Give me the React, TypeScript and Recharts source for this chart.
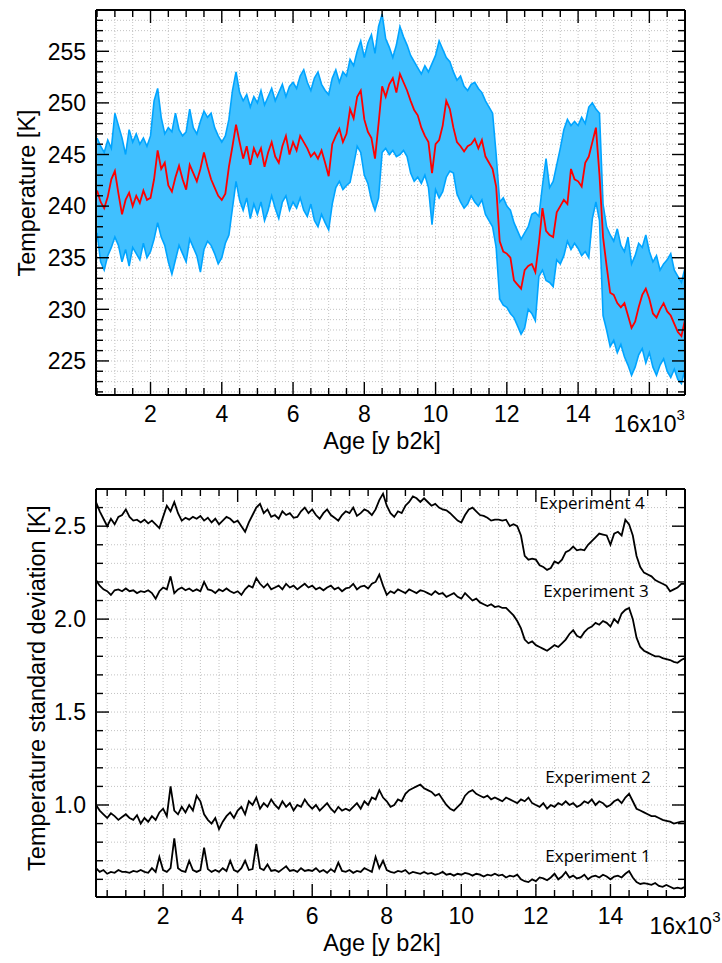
import React from "react";
import {
  ComposedChart,
  LineChart,
  Line,
  Area,
  XAxis,
  YAxis,
  CartesianGrid,
} from "recharts";

const FONT = "'Liberation Sans', Arial, Helvetica, sans-serif";
const LABEL_FONT = "'Open Sans', 'DejaVu Sans', sans-serif";

function range(start: number, stop: number, step: number): number[] {
  const out: number[] = [];
  for (let i = 0; start + i * step <= stop + 1e-9; i++) {
    out.push(Math.round((start + i * step) * 1000) / 1000);
  }
  return out;
}

// ---- top panel: temperature reconstruction, 500..17000 y b2k every 100 y
const topAges = range(500, 17000, 100);

const tempMean = [
  241.5, 240.4, 239.8, 240.9, 242.6,
  243.4, 241.2, 239.2, 240.6, 241.3, 240.0, 241.0, 240.3, 241.5, 240.6,
  240.8, 242.6, 245.4, 243.6, 244.2, 242.0, 241.4, 242.8, 243.9, 242.6,
  241.6, 244.0, 243.2, 242.4, 243.6, 245.2, 243.8, 242.6, 241.8, 241.0,
  240.6, 241.2, 243.8, 245.8, 247.9, 246.2, 244.6, 245.8, 244.0, 245.6,
  244.8, 245.6, 243.8, 245.2, 246.2, 244.8, 244.2, 245.8, 246.8, 245.0,
  246.2, 245.4, 246.8, 246.2, 245.6, 244.8, 245.2, 244.6, 245.4, 244.2,
  242.9, 246.0, 246.8, 247.5, 246.2, 247.0, 249.4, 248.5, 250.6, 251.2,
  248.4, 247.2, 246.6, 244.6, 248.0, 251.6, 250.6, 251.8, 252.4, 251.0,
  252.8, 252.0, 251.2, 250.2, 249.3, 248.8, 247.6, 246.8, 246.2, 243.2,
  246.0, 246.4, 247.8, 250.2, 249.4, 247.6, 246.2, 245.8, 245.3, 245.8,
  246.0, 246.5, 245.6, 246.4, 244.8, 244.2, 243.6, 241.9, 236.6, 235.6,
  235.4, 235.0, 232.8, 232.4, 232.0, 233.8, 234.2, 234.4, 233.6, 236.4,
  239.8, 237.6, 237.2, 237.0, 239.4, 240.0, 240.6, 240.2, 243.6, 242.6,
  242.4, 241.9, 244.2, 244.8, 246.2, 247.6, 243.0, 237.0, 234.2, 231.6,
  231.4, 230.6, 230.2, 230.6, 229.4, 228.2, 228.8, 230.2, 231.4, 232.0,
  231.0, 229.6, 229.2, 230.0, 230.6, 229.8, 229.4, 228.6, 227.8, 227.4,
  229.0,
];

const tempUpper = [
  246.6, 245.8, 245.2, 246.4, 245.6,
  249.0, 247.8, 246.6, 245.0, 247.4, 246.2, 247.0, 246.0, 246.6, 245.8,
  246.8, 250.2, 251.4, 248.6, 247.0, 247.6, 247.2, 249.0, 247.4, 246.8,
  247.2, 249.4, 247.6, 247.0, 248.2, 249.2, 248.6, 249.0, 247.6, 246.8,
  246.2, 246.8, 248.4, 251.2, 253.0, 251.0, 250.2, 250.8, 249.6, 250.6,
  250.0, 251.2, 249.8, 250.6, 251.4, 250.2, 251.0, 251.8, 250.6, 251.6,
  252.0, 251.4, 252.6, 253.2, 252.0, 251.2, 252.4, 253.0, 251.8, 251.2,
  250.8, 252.4, 253.2, 252.0, 253.0, 252.6, 254.2, 253.6, 255.0, 256.0,
  254.4, 255.8, 256.6, 254.8, 257.4, 258.6, 256.2, 255.4, 254.4, 255.6,
  257.4, 256.4, 255.6, 254.6, 254.0, 253.4, 252.8, 253.6, 253.0, 253.8,
  254.6, 256.0, 255.2, 254.4, 254.0, 253.0, 252.2, 252.6, 251.6, 251.2,
  251.8, 252.0, 251.4, 251.0, 250.2, 249.6, 249.0, 245.0, 240.4, 240.8,
  240.0, 239.6, 238.4, 237.6, 236.8, 237.4, 238.0, 239.2, 239.4, 239.0,
  242.0, 244.6, 241.8, 242.4, 244.0, 245.6, 247.4, 248.4, 247.8, 248.2,
  247.8, 248.6, 248.0, 249.6, 250.0, 249.4, 249.0, 240.2, 238.0, 237.2,
  236.6, 237.8, 236.2, 235.6, 237.0, 234.4, 235.2, 236.4, 236.0, 237.2,
  235.6, 234.6, 235.2, 233.8, 234.4, 234.8, 235.4, 233.8, 233.2, 232.6,
  234.0,
];

const tempLower = [
  237.4, 234.6, 233.8, 235.2, 236.0,
  237.0, 236.2, 234.6, 235.8, 234.2, 236.0, 235.4, 234.8, 236.4, 235.0,
  235.6, 236.8, 238.4, 237.0, 236.2, 234.6, 233.4, 234.8, 236.2, 235.4,
  234.6, 236.8, 236.0, 235.2, 233.6, 235.8, 236.6, 236.2, 235.4, 234.4,
  235.0, 236.4, 237.2, 239.8, 242.4, 240.6, 239.6, 240.8, 238.8, 240.2,
  239.2, 240.4, 238.6, 239.6, 241.0, 239.8, 238.8, 240.4, 241.0, 239.6,
  240.4, 239.8, 240.8, 239.6, 239.0, 240.2, 238.6, 238.0, 239.2, 238.4,
  237.7, 240.2, 241.8, 242.4, 241.6, 242.0, 242.3, 244.0, 245.8, 245.2,
  243.0, 242.2, 240.6, 239.6, 240.8, 245.2, 245.6, 245.0, 245.4, 244.8,
  245.0, 245.4, 244.8, 243.2, 242.4, 242.8, 242.2, 243.0, 241.8, 238.2,
  241.6, 240.8, 241.4, 242.8, 243.4, 243.2, 241.2, 240.4, 239.8, 240.2,
  241.0, 240.4, 240.0, 240.6, 239.2, 238.6, 238.0, 236.0, 231.0, 230.4,
  230.2, 229.6, 229.2, 228.4, 227.6, 228.2, 230.0, 229.6, 228.9, 233.2,
  233.8, 232.8, 232.6, 232.2, 234.8, 234.4, 235.2, 236.6, 235.8, 236.4,
  235.9, 235.2, 235.6, 235.0, 238.8, 240.4, 238.6, 229.4, 228.0, 226.4,
  227.0, 225.8, 226.6, 225.4, 224.6, 223.6, 224.4, 225.6, 226.2, 224.8,
  225.8, 224.4, 223.6, 224.6, 225.2, 224.0, 223.4, 224.2, 223.2, 222.8,
  224.2,
];

// ---- bottom panel: temperature standard deviation, 200..16000 y b2k every 100 y
const sdAges = range(200, 16000, 100);

const exp4 = [
  2.63, 2.58, 2.54, 2.5, 2.54, 2.51, 2.55, 2.56,
  2.59, 2.55, 2.53, 2.535, 2.52, 2.535, 2.515, 2.53, 2.51, 2.49,
  2.55, 2.61, 2.58, 2.63, 2.57, 2.53, 2.545, 2.535, 2.55, 2.54,
  2.555, 2.53, 2.545, 2.52, 2.54, 2.51, 2.53, 2.55, 2.54, 2.52,
  2.53, 2.5, 2.47, 2.52, 2.56, 2.6, 2.62, 2.57, 2.59, 2.55,
  2.56, 2.54, 2.58, 2.56, 2.57, 2.545, 2.55, 2.58, 2.6, 2.57,
  2.59, 2.56, 2.54, 2.57, 2.59, 2.56, 2.545, 2.53, 2.56, 2.58,
  2.57, 2.6, 2.555, 2.57, 2.59, 2.58, 2.56, 2.59, 2.64, 2.675,
  2.61, 2.57, 2.55, 2.58, 2.57, 2.61, 2.63, 2.66, 2.65, 2.63,
  2.65, 2.63, 2.61, 2.62, 2.6, 2.59, 2.585, 2.57, 2.55, 2.53,
  2.52, 2.56, 2.59, 2.6, 2.58, 2.56, 2.555, 2.545, 2.53, 2.535,
  2.535, 2.53, 2.535, 2.5, 2.51, 2.5, 2.45, 2.34, 2.32, 2.325,
  2.32, 2.29, 2.28, 2.265, 2.275, 2.31, 2.3, 2.32, 2.36, 2.37,
  2.39, 2.37, 2.375, 2.37, 2.4, 2.42, 2.44, 2.46, 2.455, 2.45,
  2.4, 2.46, 2.47, 2.45, 2.535, 2.51, 2.45, 2.34, 2.28, 2.25,
  2.24, 2.23, 2.21, 2.2, 2.19, 2.18, 2.15, 2.16, 2.17, 2.19,
  2.19,
];

const exp3 = [
  2.21, 2.18, 2.16, 2.15, 2.13, 2.155, 2.16, 2.15,
  2.165, 2.15, 2.155, 2.14, 2.15, 2.145, 2.155, 2.14, 2.11, 2.15,
  2.17, 2.16, 2.23, 2.14, 2.16, 2.17, 2.155, 2.165, 2.15, 2.16,
  2.15, 2.2, 2.16, 2.155, 2.14, 2.16, 2.15, 2.165, 2.15, 2.14,
  2.15, 2.13, 2.16, 2.18, 2.17, 2.22, 2.19, 2.17, 2.19, 2.16,
  2.17, 2.18, 2.16, 2.19, 2.17, 2.18, 2.16, 2.175, 2.19, 2.17,
  2.18, 2.16, 2.17, 2.155, 2.17, 2.18, 2.16, 2.17, 2.15, 2.165,
  2.17, 2.19, 2.16, 2.175, 2.18, 2.165, 2.19, 2.2, 2.24, 2.18,
  2.13, 2.15, 2.14, 2.16, 2.15, 2.14, 2.16, 2.15, 2.14, 2.155,
  2.15, 2.14, 2.13, 2.15, 2.135, 2.14, 2.12, 2.13, 2.14, 2.12,
  2.11, 2.14, 2.12, 2.1, 2.11, 2.09, 2.08, 2.07, 2.08, 2.065,
  2.07, 2.06, 2.06, 2.04, 2.02, 1.99, 1.95, 1.89, 1.87, 1.88,
  1.86, 1.85, 1.84, 1.83, 1.845, 1.86, 1.85, 1.87, 1.89, 1.92,
  1.94, 1.91, 1.9, 1.93, 1.95, 1.96, 1.98, 1.97, 1.99, 1.98,
  1.96, 2.0, 1.98, 2.03, 2.05, 2.06, 2.0, 1.9, 1.85, 1.83,
  1.82, 1.81, 1.8, 1.8, 1.79, 1.785, 1.78, 1.77, 1.765, 1.78,
  1.79,
];

const exp2 = [
  1.0, 0.97, 0.95, 0.93, 0.955, 0.94, 0.92, 0.935,
  0.95, 0.93, 0.92, 0.945, 0.9, 0.93, 0.91, 0.94, 0.92, 0.96,
  0.98, 0.94, 1.1, 0.97, 0.95, 0.99, 0.96, 1.0, 0.97, 1.05,
  1.02, 0.95, 0.92, 0.9, 0.93, 0.87, 0.91, 0.94, 0.96, 0.93,
  0.97, 0.99, 0.95, 1.02, 1.0, 1.04, 0.98, 1.01, 0.99, 1.03,
  1.0, 0.98, 1.02, 0.99, 1.01, 0.97, 1.0, 0.99, 1.03, 1.0,
  0.98, 1.0, 0.97, 0.99, 1.01, 0.98, 0.96, 0.99, 0.97, 0.98,
  0.97, 0.99, 1.01, 0.98, 1.02, 1.0, 1.04, 1.03, 1.08, 1.04,
  1.02, 0.99, 1.0, 1.03, 1.02, 1.06, 1.08, 1.09, 1.1, 1.11,
  1.09, 1.08, 1.07, 1.05, 1.06, 1.03, 1.0, 0.98, 0.97, 0.99,
  1.01, 1.05, 1.07, 1.08, 1.06, 1.05, 1.04, 1.05, 1.03, 1.04,
  1.03, 1.02, 1.04, 1.03, 1.02, 1.01, 1.03, 1.02, 1.04, 1.01,
  1.0, 0.99, 1.01, 0.98, 1.0, 0.99, 1.01, 1.0, 1.02, 1.0,
  1.01, 0.99, 1.0, 1.02, 1.01, 1.03, 1.0, 1.02, 1.01, 0.99,
  1.0, 1.02, 1.03, 1.01, 1.04, 1.06, 1.02, 0.98, 0.97, 0.96,
  0.95, 0.94, 0.94, 0.93, 0.92, 0.915, 0.91, 0.9, 0.905, 0.91,
  0.91,
];

const exp1 = [
  0.66, 0.64, 0.65, 0.63, 0.64, 0.635, 0.65, 0.64,
  0.64, 0.635, 0.645, 0.64, 0.65, 0.64, 0.635, 0.66, 0.64, 0.72,
  0.65, 0.64, 0.66, 0.82, 0.66, 0.645, 0.64, 0.7, 0.65, 0.64,
  0.65, 0.77, 0.655, 0.64, 0.65, 0.64, 0.66, 0.645, 0.7, 0.65,
  0.64, 0.66, 0.7, 0.65, 0.655, 0.79, 0.66, 0.65, 0.68, 0.645,
  0.65, 0.64, 0.655, 0.67, 0.645, 0.65, 0.64, 0.66, 0.645, 0.65,
  0.645, 0.66, 0.64, 0.65, 0.635, 0.655, 0.64, 0.69, 0.645, 0.64,
  0.65, 0.635, 0.645, 0.64, 0.66, 0.65, 0.64, 0.72, 0.66, 0.7,
  0.65, 0.64, 0.635, 0.645, 0.64, 0.65, 0.63, 0.64, 0.635, 0.63,
  0.64, 0.63, 0.635, 0.625, 0.63, 0.64, 0.625, 0.63, 0.62, 0.63,
  0.625, 0.635, 0.63, 0.62, 0.63, 0.625, 0.615, 0.625, 0.62, 0.63,
  0.62, 0.625, 0.61, 0.62, 0.615, 0.625, 0.6, 0.59, 0.585, 0.6,
  0.59, 0.61, 0.605, 0.595, 0.61, 0.63, 0.6, 0.615, 0.64, 0.61,
  0.62, 0.605, 0.61, 0.625, 0.6, 0.615, 0.62, 0.61, 0.625, 0.615,
  0.6, 0.615, 0.62, 0.61, 0.63, 0.645, 0.61, 0.585, 0.575, 0.58,
  0.575, 0.57, 0.58, 0.565, 0.56, 0.57, 0.56, 0.55, 0.555, 0.55,
  0.56,
];

// ---- ticks and labels
const topAgeTicks = range(500, 17000, 500);
const sdAgeTicks = range(500, 16000, 500);
const ageLabels = [2000, 4000, 6000, 8000, 10000, 12000, 14000, 16000];
const tempTicks = range(222, 259, 1);
const tempLabels = [225, 230, 235, 240, 245, 250, 255];
const sdTicks = range(0.6, 2.7, 0.1);
const sdLabels = [1.0, 1.5, 2.0, 2.5];

const experimentNames = ["Experiment 4", "Experiment 3", "Experiment 2", "Experiment 1"];

const topData = topAges.map((age, i) => ({
  age,
  band: [tempLower[i], tempUpper[i]],
  mean: tempMean[i],
}));

const sdData = sdAges.map((age, i) => ({
  age,
  e1: exp1[i],
  e2: exp2[i],
  e3: exp3[i],
  e4: exp4[i],
}));

const MAJOR = 13;
const MINOR = 7;
const TICK_FS = 23;
const TITLE_FS = 23.5;

const isIn = (list: number[], v: number) => list.some((l) => Math.abs(l - v) < 1e-6);

function xTick(labels: number[], side: "bottom" | "top") {
  return (props: any) => {
    const { x, y, payload } = props;
    const v = payload.value as number;
    const major = isIn(labels, v);
    const dir = side === "bottom" ? -1 : 1;
    const len = major ? MAJOR : MINOR;
    let label: React.ReactNode = null;
    if (side === "bottom" && major) {
      if (v === 16000) {
        label = (
          <text x={x} y={y + 37} textAnchor="middle" fontSize={TICK_FS} fontFamily={FONT} fill="#000">
            16x10
            <tspan dy={-12} fontSize={15}>3</tspan>
          </text>
        );
      } else {
        label = (
          <text x={x} y={y + 27} textAnchor="middle" fontSize={TICK_FS} fontFamily={FONT} fill="#000">
            {String(v / 1000)}
          </text>
        );
      }
    }
    return (
      <g>
        <line x1={x} y1={y} x2={x} y2={y + dir * len} stroke="#000" strokeWidth={1.4} />
        {label}
      </g>
    );
  };
}

function yTick(labels: number[], side: "left" | "right", fmt: (v: number) => string) {
  return (props: any) => {
    const { x, y, payload } = props;
    const v = payload.value as number;
    const major = isIn(labels, v);
    const dir = side === "left" ? 1 : -1;
    const len = major ? MAJOR : MINOR;
    return (
      <g>
        <line x1={x} y1={y} x2={x + dir * len} y2={y} stroke="#000" strokeWidth={1.4} />
        {side === "left" && major && (
          <text x={x - 10} y={y} dy="0.36em" textAnchor="end" fontSize={TICK_FS} fontFamily={FONT} fill="#000">
            {fmt(v)}
          </text>
        )}
      </g>
    );
  };
}

const axisLine = { stroke: "#000", strokeWidth: 2 };
const gridProps = { stroke: "#c2c2c2", strokeDasharray: "1 2", strokeWidth: 1 };

// shared axis props: ticks drawn by the custom renderers, pointing inwards
const bare = {
  type: "number" as const,
  interval: 0 as const,
  allowDataOverflow: true,
  tickSize: 0,
  tickMargin: 0,
  tickLine: false,
  axisLine,
};

function TopChart() {
  return (
    <ComposedChart
      width={722}
      height={480}
      data={topData}
      margin={{ top: 9, right: 36, bottom: 25, left: 0 }}
    >
      <CartesianGrid {...gridProps} />
      <XAxis
        {...bare}
        dataKey="age"
        domain={[470, 17000]}
        ticks={topAgeTicks}
        height={60}
        tick={xTick(ageLabels, "bottom")}
      />
      <XAxis
        {...bare}
        xAxisId="top"
        orientation="top"
        dataKey="age"
        domain={[470, 17000]}
        ticks={topAgeTicks}
        height={1}
        tick={xTick(ageLabels, "top")}
      />
      <YAxis
        {...bare}
        domain={[221.7, 259]}
        ticks={tempTicks}
        width={96}
        tick={yTick(tempLabels, "left", (v) => String(v))}
      />
      <YAxis
        {...bare}
        yAxisId="right"
        orientation="right"
        domain={[221.7, 259]}
        ticks={tempTicks}
        width={1}
        tick={yTick(tempLabels, "right", (v) => String(v))}
      />
      <Area
        dataKey="band"
        type="linear"
        stroke="#00a4ff"
        strokeWidth={1.6}
        fill="#40c0ff"
        fillOpacity={1}
        dot={false}
        activeDot={false}
        isAnimationActive={false}
      />
      <Line
        dataKey="mean"
        type="linear"
        stroke="#ff0000"
        strokeWidth={1.8}
        dot={false}
        activeDot={false}
        isAnimationActive={false}
      />
    </ComposedChart>
  );
}

function SdChart() {
  const keys = ["e4", "e3", "e2", "e1"];
  return (
    <LineChart
      width={722}
      height={483}
      data={sdData}
      margin={{ top: 8, right: 36, bottom: 6, left: 0 }}
    >
      <CartesianGrid {...gridProps} />
      <XAxis
        {...bare}
        dataKey="age"
        domain={[200, 16000]}
        ticks={sdAgeTicks}
        height={60}
        tick={xTick(ageLabels, "bottom")}
      />
      <XAxis
        {...bare}
        xAxisId="top"
        orientation="top"
        dataKey="age"
        domain={[200, 16000]}
        ticks={sdAgeTicks}
        height={1}
        tick={xTick(ageLabels, "top")}
      />
      <YAxis
        {...bare}
        domain={[0.505, 2.7]}
        ticks={sdTicks}
        width={96}
        tick={yTick(sdLabels, "left", (v) => v.toFixed(1))}
      />
      <YAxis
        {...bare}
        yAxisId="right"
        orientation="right"
        domain={[0.505, 2.7]}
        ticks={sdTicks}
        width={1}
        tick={yTick(sdLabels, "right", (v) => v.toFixed(1))}
      />
      {keys.map((k) => (
        <Line
          key={k}
          dataKey={k}
          type="linear"
          stroke="#000"
          strokeWidth={1.8}
          dot={false}
          activeDot={false}
          isAnimationActive={false}
        />
      ))}
    </LineChart>
  );
}

export default function App() {
  const labelPos = [
    { x: 592, y: 509 },
    { x: 596, y: 597 },
    { x: 598, y: 783 },
    { x: 598, y: 862 },
  ];
  return (
    <div style={{ position: "absolute", left: 0, top: 0, width: 722, height: 963, background: "#fff" }}>
      <div style={{ position: "absolute", left: 0, top: 0 }}>
        <TopChart />
      </div>
      <div style={{ position: "absolute", left: 0, top: 480 }}>
        <SdChart />
      </div>
      <svg
        width={722}
        height={963}
        style={{ position: "absolute", left: 0, top: 0, pointerEvents: "none" }}
      >
        <text
          transform="translate(27,193) rotate(-90)"
          textAnchor="middle"
          dominantBaseline="central"
          fontSize={TITLE_FS}
          fontFamily={FONT}
        >
          Temperature [K]
        </text>
        <text x={382} y={449} textAnchor="middle" fontSize={TITLE_FS} fontFamily={FONT}>
          Age [y b2k]
        </text>
        <text
          transform="translate(37,688) rotate(-90)"
          textAnchor="middle"
          dominantBaseline="central"
          fontSize={TITLE_FS}
          fontFamily={FONT}
        >
          Temperature standard deviation [K]
        </text>
        <text x={382} y={951} textAnchor="middle" fontSize={TITLE_FS} fontFamily={FONT}>
          Age [y b2k]
        </text>
        {experimentNames.map((name, i) => (
          <text
            key={name}
            x={labelPos[i].x}
            y={labelPos[i].y}
            textAnchor="middle"
            fontSize={17}
            fontFamily={LABEL_FONT}
            fill="#000"
          >
            {name}
          </text>
        ))}
      </svg>
    </div>
  );
}
